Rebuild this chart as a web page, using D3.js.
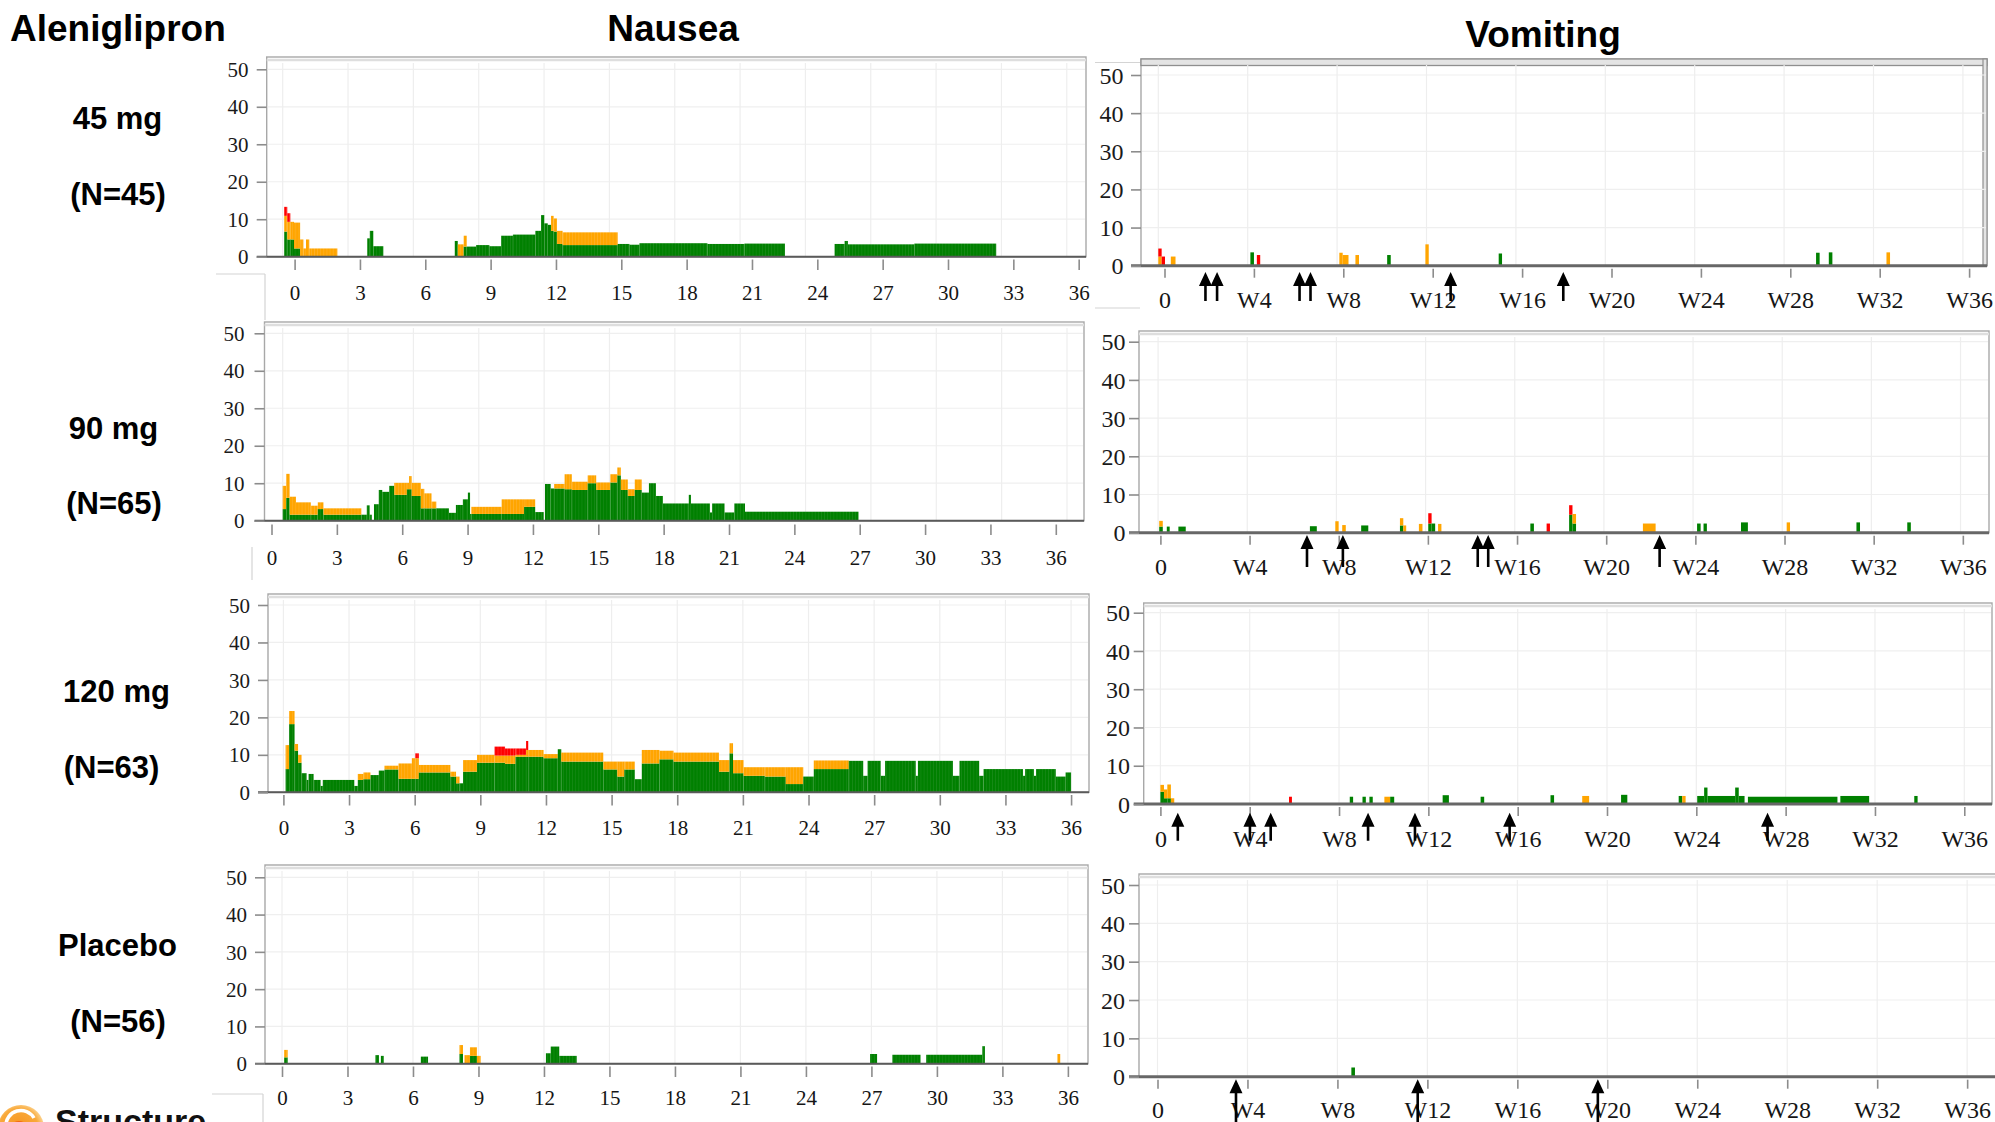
<!DOCTYPE html>
<html>
<head>
<meta charset="utf-8">
<script src="https://cdn.jsdelivr.net/npm/d3@7"></script>
<style>
  html, body { margin: 0; padding: 0; background: #fff; }
  svg { display: block; }
</style>
</head>
<body>
<svg id="chart" width="1995" height="1122"></svg>
<script>
// ---------------------------------------------------------------
// Daily share of patients (%) with nausea / vomiting by severity.
// Each run: [startWeek, endWeek, mild, moderate, severe]
// ---------------------------------------------------------------
const severityLevels = ["mild", "moderate", "severe"];
const severityColors = ["#008000", "#FFA500", "#FF0000"];

const yTickValues = [0, 10, 20, 30, 40, 50];
const nauseaWeekTicks = [0, 3, 6, 9, 12, 15, 18, 21, 24, 27, 30, 33, 36];
const nauseaTickLabels = ["0", "3", "6", "9", "12", "15", "18", "21", "24", "27", "30", "33", "36"];
const vomitWeekTicks = [0, 4, 8, 12, 16, 20, 24, 28, 32, 36];
const vomitTickLabels = ["0", "W4", "W8", "W12", "W16", "W20", "W24", "W28", "W32", "W36"];

const armNames = ["45 mg", "90 mg", "120 mg", "Placebo"];
const armCounts = ["(N=45)", "(N=65)", "(N=63)", "(N=56)"];

const nausea45 = [
  [0.07, 0.21, 6.7, 4.2, 2.4], [0.21, 0.35, 4.6, 4.7, 2.3], [0.35, 0.52, 4.6, 4.7, 0],
  [0.52, 0.80, 2.2, 6.9, 0], [0.80, 0.95, 0, 4.6, 0], [0.95, 1.07, 0, 2.2, 0],
  [1.07, 1.22, 0, 4.6, 0], [1.22, 2.51, 0, 2.2, 0],
  [3.88, 4.00, 4.9, 0, 0], [4.00, 4.16, 6.9, 0, 0], [4.16, 4.62, 2.8, 0, 0],
  [7.90, 8.04, 4.2, 0, 0], [8.04, 8.31, 0, 3.3, 0], [8.31, 8.45, 2.7, 2.9, 0],
  [8.45, 8.88, 2.7, 0, 0], [8.88, 9.49, 3.1, 0, 0], [9.49, 10.03, 2.8, 0, 0],
  [10.03, 10.57, 5.6, 0, 0], [10.57, 11.60, 5.9, 0, 0], [11.60, 11.86, 6.9, 0, 0],
  [11.86, 12.01, 11.1, 0, 0], [12.01, 12.17, 8.9, 0, 0], [12.17, 12.32, 8.5, 0, 0],
  [12.32, 12.44, 6.9, 4.0, 0], [12.44, 12.59, 6.7, 3.5, 0], [12.59, 12.85, 3.4, 3.5, 0],
  [12.85, 15.38, 3.1, 3.4, 0], [15.38, 15.92, 3.4, 0, 0], [15.92, 16.38, 3.2, 0, 0],
  [16.38, 19.50, 3.6, 0, 0], [19.50, 21.20, 3.4, 0, 0], [21.20, 23.06, 3.5, 0, 0],
  [25.34, 25.80, 3.4, 0, 0], [25.80, 25.95, 4.2, 0, 0], [25.95, 29.00, 3.3, 0, 0],
  [29.00, 32.76, 3.5, 0, 0]
];

const nausea90 = [
  [0.00, 0.16, 3.1, 6.2, 0], [0.16, 0.32, 6.1, 6.4, 0], [0.32, 0.61, 1.6, 4.8, 0],
  [0.61, 1.29, 1.6, 3.3, 0], [1.29, 1.61, 1.6, 2.4, 0], [1.61, 1.87, 3.1, 1.8, 0],
  [1.87, 3.61, 1.6, 1.7, 0], [3.61, 3.86, 1.6, 0, 0], [3.86, 3.99, 4.1, 0, 0],
  [3.99, 4.09, 1.6, 0, 0], [4.19, 4.41, 4.4, 0, 0], [4.41, 4.57, 8.2, 0, 0],
  [4.57, 4.89, 7.7, 0, 0], [4.89, 5.12, 9.3, 0, 0], [5.12, 5.70, 6.9, 3.2, 0],
  [5.70, 5.80, 8.4, 1.7, 0], [5.80, 5.92, 8.4, 3.5, 0], [5.92, 6.34, 6.6, 3.5, 0],
  [6.34, 6.50, 3.3, 5.2, 0], [6.50, 6.83, 3.3, 4.0, 0], [6.83, 7.05, 3.3, 1.8, 0],
  [7.05, 7.63, 3.3, 0, 0], [7.63, 7.95, 2.1, 0, 0], [7.95, 8.27, 4.2, 0, 0],
  [8.27, 8.50, 5.7, 0, 0], [8.50, 8.60, 7.5, 0, 0], [8.60, 8.66, 1.8, 0, 0],
  [8.66, 10.05, 1.8, 1.9, 0], [10.05, 11.08, 1.8, 3.9, 0], [11.08, 11.59, 3.7, 2.0, 0],
  [11.59, 11.98, 2.3, 0, 0], [12.04, 12.30, 9.8, 0, 0], [12.30, 12.46, 8.6, 0, 0],
  [12.46, 12.94, 8.6, 1.2, 0], [12.94, 13.27, 8.4, 4.0, 0], [13.27, 14.00, 8.2, 2.2, 0],
  [14.00, 14.39, 10.0, 2.1, 0], [14.39, 15.04, 8.2, 2.0, 0], [15.04, 15.36, 10.2, 2.2, 0],
  [15.36, 15.52, 12.1, 2.1, 0], [15.52, 15.84, 8.2, 2.8, 0], [15.84, 16.16, 6.6, 1.8, 0],
  [16.16, 16.48, 8.2, 2.8, 0], [16.48, 16.81, 7.5, 0, 0], [16.81, 17.13, 10.0, 0, 0],
  [17.13, 17.45, 6.6, 0, 0], [17.45, 18.64, 4.6, 0, 0], [18.64, 18.74, 6.9, 0, 0],
  [18.74, 19.61, 4.6, 0, 0], [19.61, 19.71, 2.2, 0, 0], [19.71, 20.28, 4.6, 0, 0],
  [20.28, 20.73, 2.2, 0, 0], [20.73, 21.22, 4.6, 0, 0], [21.22, 26.43, 2.4, 0, 0]
];

const nausea120 = [
  [0.10, 0.26, 6.2, 6.4, 0], [0.26, 0.51, 18.2, 3.5, 0], [0.51, 0.67, 11.1, 1.8, 0],
  [0.67, 0.83, 7.9, 2.1, 0], [0.83, 1.06, 5.1, 0, 0], [1.06, 1.15, 3.3, 0, 0],
  [1.15, 1.38, 4.9, 0, 0], [1.38, 1.70, 3.3, 0, 0], [1.70, 1.80, 1.7, 0, 0],
  [1.80, 3.24, 3.3, 0, 0], [3.24, 3.40, 1.7, 0, 0], [3.40, 3.66, 3.3, 1.6, 0],
  [3.66, 3.98, 3.5, 1.8, 0], [3.98, 4.36, 4.6, 0, 0], [4.36, 4.62, 5.8, 0, 0],
  [4.62, 5.26, 6.1, 1.0, 0], [5.26, 5.87, 3.6, 4.1, 0], [5.87, 6.03, 3.6, 5.5, 0],
  [6.03, 6.19, 3.6, 5.5, 1.3], [6.19, 7.63, 5.3, 2.0, 0], [7.63, 7.89, 4.2, 1.3, 0],
  [7.89, 8.05, 2.4, 1.8, 0], [8.05, 8.21, 2.4, 0, 0], [8.21, 8.85, 5.5, 3.1, 0],
  [8.85, 9.65, 7.9, 2.1, 0], [9.65, 10.13, 7.9, 1.9, 2.4], [10.13, 10.61, 7.6, 2.2, 1.9],
  [10.61, 11.09, 9.5, 0.5, 1.7], [11.09, 11.19, 9.5, 1.8, 2.4], [11.19, 11.89, 9.5, 1.8, 0],
  [11.89, 12.54, 9.1, 1.1, 0], [12.54, 12.70, 11.5, 0, 0], [12.70, 14.62, 8.2, 2.4, 0],
  [14.62, 15.26, 6.1, 2.1, 0], [15.26, 15.58, 4.2, 4.0, 0], [15.58, 16.06, 6.1, 2.1, 0],
  [16.06, 16.38, 3.5, 0, 0], [16.38, 17.19, 7.7, 3.6, 0], [17.19, 17.83, 8.8, 2.3, 0],
  [17.83, 19.91, 8.2, 2.4, 0], [19.91, 20.39, 5.5, 3.1, 0], [20.39, 20.55, 10.4, 2.7, 0],
  [20.55, 21.03, 5.1, 3.5, 0], [21.03, 22.00, 4.4, 2.3, 0], [22.00, 22.96, 4.2, 2.5, 0],
  [22.96, 23.76, 2.2, 4.5, 0], [23.76, 24.24, 4.2, 0, 0], [24.24, 25.84, 6.2, 2.3, 0],
  [25.84, 26.50, 8.4, 0, 0], [26.50, 26.70, 4.4, 0, 0], [26.70, 27.30, 8.4, 0, 0],
  [27.30, 27.50, 4.4, 0, 0], [27.50, 28.90, 8.4, 0, 0], [28.90, 29.00, 4.4, 0, 0],
  [29.00, 30.60, 8.4, 0, 0], [30.60, 30.90, 4.4, 0, 0], [30.90, 31.80, 8.4, 0, 0],
  [31.80, 32.00, 4.4, 0, 0], [32.00, 33.80, 6.2, 0, 0], [33.80, 33.90, 4.4, 0, 0],
  [33.90, 34.30, 6.2, 0, 0], [34.30, 34.40, 4.4, 0, 0], [34.40, 35.30, 6.2, 0, 0],
  [35.30, 35.75, 4.2, 0, 0], [35.75, 36.00, 5.3, 0, 0]
];

const nauseaPlacebo = [
  [0.10, 0.26, 1.7, 2.0, 0], [4.28, 4.44, 2.3, 0, 0], [4.53, 4.66, 2.1, 0, 0],
  [6.36, 6.69, 1.9, 0, 0], [8.13, 8.29, 2.6, 2.4, 0], [8.36, 8.61, 0, 2.3, 0],
  [8.61, 8.93, 2.1, 2.3, 0], [8.93, 9.10, 0, 2.1, 0], [12.09, 12.31, 2.8, 0, 0],
  [12.31, 12.70, 4.6, 0, 0], [12.70, 13.50, 2.1, 0, 0], [26.94, 27.26, 2.6, 0, 0],
  [27.96, 29.25, 2.4, 0, 0], [29.51, 32.08, 2.4, 0, 0], [32.08, 32.20, 4.7, 0, 0],
  [35.52, 35.65, 0, 2.6, 0]
];

const vomit45 = [
  [0.00, 0.15, 0, 2.4, 2.1], [0.15, 0.30, 0, 0, 2.4], [0.56, 0.77, 0, 2.4, 0],
  [4.12, 4.28, 3.5, 0, 0], [4.41, 4.56, 0, 0, 2.8], [8.10, 8.25, 0, 3.4, 0],
  [8.25, 8.51, 0, 2.8, 0], [8.82, 8.98, 0, 2.8, 0], [10.24, 10.40, 2.8, 0, 0],
  [11.95, 12.10, 0, 5.6, 0], [15.23, 15.38, 3.2, 0, 0], [29.43, 29.59, 3.4, 0, 0],
  [30.00, 30.16, 3.5, 0, 0], [32.58, 32.74, 0, 3.5, 0]
];

const vomit90 = [
  [0.05, 0.21, 1.6, 1.5, 0], [0.39, 0.52, 1.6, 0, 0], [0.91, 1.24, 1.6, 0, 0],
  [6.81, 7.12, 1.7, 0, 0], [7.95, 8.10, 0, 3.0, 0], [8.26, 8.42, 0, 2.0, 0],
  [9.11, 9.43, 1.9, 0, 0], [10.85, 11.00, 1.9, 1.9, 0], [11.00, 11.13, 0, 1.9, 0],
  [11.70, 11.86, 0, 2.3, 0], [12.12, 12.27, 2.4, 0, 2.7], [12.27, 12.43, 2.4, 0, 0],
  [12.56, 12.71, 0, 2.3, 0], [16.70, 16.86, 2.4, 0, 0], [17.43, 17.58, 0, 0, 2.4],
  [18.44, 18.59, 4.7, 0, 2.5], [18.59, 18.75, 2.4, 2.5, 0], [21.75, 22.32, 0, 2.4, 0],
  [24.18, 24.34, 2.4, 0, 0], [24.47, 24.62, 2.4, 0, 0], [26.15, 26.46, 2.7, 0, 0],
  [28.20, 28.35, 0, 2.7, 0], [31.33, 31.49, 2.7, 0, 0], [33.61, 33.77, 2.7, 0, 0]
];

const vomit120 = [
  [0.00, 0.16, 3.2, 1.8, 0], [0.16, 0.31, 1.5, 2.3, 0], [0.31, 0.47, 1.5, 3.6, 0],
  [0.47, 0.62, 0, 1.5, 0], [5.76, 5.89, 0, 0, 1.9], [8.48, 8.63, 1.9, 0, 0],
  [9.05, 9.20, 1.9, 0, 0], [9.36, 9.51, 1.9, 0, 0], [10.03, 10.29, 0, 1.9, 0],
  [10.29, 10.47, 1.9, 0, 0], [12.64, 12.92, 2.3, 0, 0], [14.34, 14.50, 1.9, 0, 0],
  [17.47, 17.63, 2.3, 0, 0], [18.89, 19.20, 0, 2.1, 0], [20.63, 20.91, 2.4, 0, 0],
  [23.21, 23.37, 2.1, 0, 0], [23.37, 23.52, 0, 2.1, 0], [24.04, 24.35, 2.1, 0, 0],
  [24.35, 24.50, 4.3, 0, 0], [24.50, 25.74, 2.1, 0, 0], [25.74, 25.90, 4.3, 0, 0],
  [25.90, 26.16, 2.1, 0, 0], [26.31, 30.32, 1.9, 0, 0], [30.45, 31.74, 2.1, 0, 0],
  [33.76, 33.91, 2.1, 0, 0]
];

const vomitPlacebo = [
  [8.62, 8.78, 2.4, 0, 0]
];

// Weeks at which the arrow markers sit under the vomiting axes
const vomitArrows45 = [2.11, 2.63, 6.32, 6.81, 13.08, 18.12];
const vomitArrows90 = [6.68, 8.29, 14.34, 14.81, 22.50];
const vomitArrows120 = [0.78, 4.01, 4.94, 9.30, 11.40, 15.64, 27.19];
const vomitArrowsPlacebo = [3.49, 11.57, 19.58];

// ---------------------------------------------------------------
// Panel geometry
// ---------------------------------------------------------------
const nauseaLayout = [
  { gx0: 282.7, pxw: 21.78, tickOffset: 11.9, y0: 256.7, y50: 69.3, left: 266.7, right: 1086, top: 57, tickTop: 259.5, labelY: 292, yLabelRight: 248.5 },
  { gx0: 282.7, pxw: 21.786, tickOffset: -11.2, y0: 520.7, y50: 333.3, left: 264.5, right: 1084, top: 322, tickTop: 524.5, labelY: 557, yLabelRight: 244.5 },
  { gx0: 283.4, pxw: 21.88, tickOffset: 0, y0: 792.3, y50: 605, left: 268, right: 1089, top: 594, tickTop: 795, labelY: 827, yLabelRight: 250 },
  { gx0: 282, pxw: 21.83, tickOffset: 0, y0: 1063.7, y50: 877.3, left: 265, right: 1088, top: 865, tickTop: 1066.5, labelY: 1097, yLabelRight: 247 }
];
const vomitLayout = [
  { gx0: 1158.3, pxw: 22.35, tickOffset: 6.2, y0: 265.7, y50: 75, left: 1141, right: 1987, top: 59, tickTop: 268.7, labelY: 299.5, yLabelRight: 1123.5, arrowTip: 272, arrowLen: 29, heavyTop: true },
  { gx0: 1158.1, pxw: 22.29, tickOffset: 2.3, y0: 532.7, y50: 341.7, left: 1139, right: 1989, top: 331, tickTop: 535.7, labelY: 566, yLabelRight: 1125.5, arrowTip: 535, arrowLen: 32 },
  { gx0: 1160.4, pxw: 22.33, tickOffset: 0, y0: 804, y50: 612.7, left: 1143.7, right: 1992, top: 603, tickTop: 807, labelY: 838, yLabelRight: 1130, arrowTip: 812.7, arrowLen: 28 },
  { gx0: 1157.5, pxw: 22.49, tickOffset: 0, y0: 1076.7, y50: 885, left: 1139, right: 2000, top: 874, tickTop: 1079.7, labelY: 1109.5, yLabelRight: 1125, arrowTip: 1079.3, arrowLen: 48 }
];

const nauseaSeries = [nausea45, nausea90, nausea120, nauseaPlacebo];
const vomitSeries = [vomit45, vomit90, vomit120, vomitPlacebo];
const vomitArrows = [vomitArrows45, vomitArrows90, vomitArrows120, vomitArrowsPlacebo];

const serif = "'Liberation Serif', 'Times New Roman', Times, serif";
const sans = "'Liberation Sans', Arial, Helvetica, sans-serif";

const svg = d3.select("#chart");
svg.append("rect").attr("width", 1995).attr("height", 1122).attr("fill", "#fff");

// Daily bars show as fine vertical stripes inside the filled runs
const defs = svg.append("defs");
const stripeLight = ["#1c8c1c", "#ffb22e", "#ff3a3a"];
severityLevels.forEach((lv, i) => {
  const p = defs.append("pattern").attr("id", "day-" + lv)
    .attr("patternUnits", "userSpaceOnUse").attr("width", 3.11).attr("height", 10);
  p.append("rect").attr("width", 3.11).attr("height", 10).attr("fill", severityColors[i]);
  p.append("rect").attr("width", 0.6).attr("height", 10).attr("fill", stripeLight[i]);
});

function stackRuns(runs) {
  return runs.flatMap(r => {
    let base = 0;
    return severityLevels.map((lv, i) => {
      const v = r[2 + i];
      const seg = { x0: r[0], x1: r[1], lo: base, hi: base + v, i };
      base += v;
      return seg;
    }).filter(s => s.hi > s.lo);
  });
}

function drawPanel(cfg, runs, opts) {
  const g = svg.append("g");
  const x = d3.scaleLinear().domain([0, 36]).range([cfg.gx0, cfg.gx0 + 36 * cfg.pxw]);
  const y = d3.scaleLinear().domain([0, 50]).range([cfg.y0, cfg.y50]);

  // plot frame
  g.append("rect").attr("x", cfg.left).attr("y", cfg.top)
    .attr("width", cfg.right - cfg.left).attr("height", cfg.y0 - cfg.top)
    .attr("fill", "#fff").attr("stroke", "#a8a8a8").attr("stroke-width", 1.4);
  if (cfg.heavyTop) {
    g.append("rect").attr("x", cfg.left).attr("y", cfg.top).attr("width", cfg.right - cfg.left).attr("height", 6.5)
      .attr("fill", "#e4e4e4").attr("stroke", "#8f8f8f").attr("stroke-width", 1.3);
    g.append("rect").attr("x", cfg.right - 4).attr("y", cfg.top).attr("width", 4).attr("height", cfg.y0 - cfg.top)
      .attr("fill", "#e4e4e4").attr("stroke", "#8f8f8f").attr("stroke-width", 1.2);
  } else {
    g.append("line").attr("x1", cfg.left).attr("x2", cfg.right).attr("y1", cfg.top + 3).attr("y2", cfg.top + 3)
      .attr("stroke", "#dedede").attr("stroke-width", 2.5);
  }

  // grid
  g.selectAll("line.hgrid").data(yTickValues.filter(v => v > 0)).join("line").attr("class", "hgrid")
    .attr("x1", cfg.left + 1).attr("x2", cfg.right - 1)
    .attr("y1", d => y(d)).attr("y2", d => y(d))
    .attr("stroke", "#efefef").attr("stroke-width", 1.2);
  g.selectAll("line.vgrid").data(opts.ticks).join("line").attr("class", "vgrid")
    .attr("x1", d => x(d)).attr("x2", d => x(d))
    .attr("y1", cfg.top + 6).attr("y2", cfg.y0)
    .attr("stroke", "#eeeeee").attr("stroke-width", 1.2);

  // stacked severity bars
  g.selectAll("rect.bar").data(stackRuns(runs)).join("rect").attr("class", "bar")
    .attr("x", d => x(d.x0))
    .attr("width", d => Math.max(1, x(d.x1) - x(d.x0)))
    .attr("y", d => y(d.hi))
    .attr("height", d => y(d.lo) - y(d.hi))
    .attr("fill", d => opts.striped ? "url(#day-" + severityLevels[d.i] + ")" : severityColors[d.i]);

  // zero baseline
  g.append("line").attr("x1", cfg.left - 10).attr("x2", cfg.right).attr("y1", cfg.y0).attr("y2", cfg.y0)
    .attr("stroke", opts.baseColor).attr("stroke-width", opts.baseWidth);

  // x axis
  const xAxis = d3.axisBottom(x).tickValues(opts.ticks)
    .tickFormat((d, i) => opts.labels[i]).tickSize(opts.tickLen).tickSizeOuter(0);
  const xg = g.append("g").attr("transform", `translate(${cfg.tickOffset},${cfg.tickTop})`).call(xAxis);
  xg.select(".domain").remove();
  xg.selectAll(".tick line").attr("stroke", "#8c8c8c").attr("stroke-width", 1.6);
  xg.selectAll(".tick text")
    .attr("y", cfg.labelY - cfg.tickTop).attr("dy", "0.36em")
    .attr("font-family", serif).attr("font-size", opts.fontSize).attr("fill", "#151515");

  // y axis
  const yAxis = d3.axisLeft(y).tickValues(yTickValues).tickSize(10).tickSizeOuter(0);
  const yg = g.append("g").attr("transform", `translate(${cfg.left},0)`).call(yAxis);
  yg.select(".domain").remove();
  yg.selectAll(".tick line").attr("stroke", "#8c8c8c").attr("stroke-width", 1.6);
  yg.selectAll(".tick text")
    .attr("x", cfg.yLabelRight - cfg.left).attr("dy", "0.34em")
    .attr("font-family", serif).attr("font-size", opts.fontSize).attr("fill", "#1a1a1a");

  // arrow markers
  if (opts.arrows) {
    const hw = 6.5, hh = 14, sw = 1.3;
    g.selectAll("path.arrow").data(opts.arrows).join("path").attr("class", "arrow")
      .attr("d", d => {
        const cx = x(d), t = cfg.arrowTip, b = t + cfg.arrowLen;
        return `M${cx},${t} L${cx + hw},${t + hh} L${cx + sw},${t + hh} L${cx + sw},${b} ` +
               `L${cx - sw},${b} L${cx - sw},${t + hh} L${cx - hw},${t + hh} Z`;
      })
      .attr("fill", "#000");
  }
}

nauseaLayout.forEach((cfg, i) => drawPanel(cfg, nauseaSeries[i], {
  ticks: nauseaWeekTicks, labels: nauseaTickLabels, tickLen: 10.5, fontSize: 21,
  striped: true, baseColor: "#5a5a5a", baseWidth: 2
}));
vomitLayout.forEach((cfg, i) => drawPanel(cfg, vomitSeries[i], {
  ticks: vomitWeekTicks, labels: vomitTickLabels, tickLen: 9, fontSize: 24,
  striped: false, baseColor: "#676767", baseWidth: 3, arrows: vomitArrows[i]
}));

// faint panel borders from the composed layout
const borderLines = [
  [216, 274, 265, 274], [265, 274, 265, 320],
  [252, 547, 252, 580],
  [212, 1094, 263, 1094], [263, 1094, 263, 1122],
  [1095, 62.5, 1140, 62.5], [1095, 308, 1140, 308]
];
svg.selectAll("line.border").data(borderLines).join("line").attr("class", "border")
  .attr("x1", d => d[0]).attr("y1", d => d[1]).attr("x2", d => d[2]).attr("y2", d => d[3])
  .attr("stroke", "#d4d4d4").attr("stroke-width", 1.2);

// headings
svg.append("text").attr("x", 10).attr("y", 40.5).text("Aleniglipron")
  .attr("font-family", sans).attr("font-weight", "bold").attr("font-size", 37).attr("fill", "#000");
svg.append("text").attr("x", 673).attr("y", 40.5).attr("text-anchor", "middle").text("Nausea")
  .attr("font-family", sans).attr("font-weight", "bold").attr("font-size", 37).attr("fill", "#000");
svg.append("text").attr("x", 1543).attr("y", 46.5).attr("text-anchor", "middle").text("Vomiting")
  .attr("font-family", sans).attr("font-weight", "bold").attr("font-size", 37).attr("fill", "#000");

// arm labels
const armLabelPos = [
  { x: 117.5, yName: 128.5, xN: 118, yN: 205 },
  { x: 113.5, yName: 438.5, xN: 114, yN: 514 },
  { x: 116.5, yName: 701.5, xN: 111.5, yN: 778 },
  { x: 117.5, yName: 956, xN: 118, yN: 1032 }
];
armLabelPos.forEach((p, i) => {
  svg.append("text").attr("x", p.x).attr("y", p.yName).attr("text-anchor", "middle").text(armNames[i])
    .attr("font-family", sans).attr("font-weight", "bold").attr("font-size", 31).attr("fill", "#000");
  svg.append("text").attr("x", p.xN).attr("y", p.yN).attr("text-anchor", "middle").text(armCounts[i])
    .attr("font-family", sans).attr("font-weight", "bold").attr("font-size", 31).attr("fill", "#000");
});

// company mark, cut by the lower edge
const logo = svg.append("g");
const grad = defs.append("radialGradient").attr("id", "logo-grad").attr("cx", "45%").attr("cy", "50%").attr("r", "60%");
grad.append("stop").attr("offset", "0%").attr("stop-color", "#f7931e");
grad.append("stop").attr("offset", "70%").attr("stop-color", "#f9a93a");
grad.append("stop").attr("offset", "100%").attr("stop-color", "#fde3b0");
logo.append("circle").attr("cx", 21).attr("cy", 1128).attr("r", 23).attr("fill", "url(#logo-grad)");
logo.append("path").attr("d", "M6,1126 A15,15 0 0 1 34,1118").attr("fill", "none")
  .attr("stroke", "#fff").attr("stroke-width", 3.5);
logo.append("circle").attr("cx", 19).attr("cy", 1131).attr("r", 10).attr("fill", "#f26a10");
svg.append("text").attr("x", 55).attr("y", 1133).text("Structure")
  .attr("font-family", sans).attr("font-weight", "bold").attr("font-size", 34).attr("fill", "#111");
</script>
</body>
</html>
